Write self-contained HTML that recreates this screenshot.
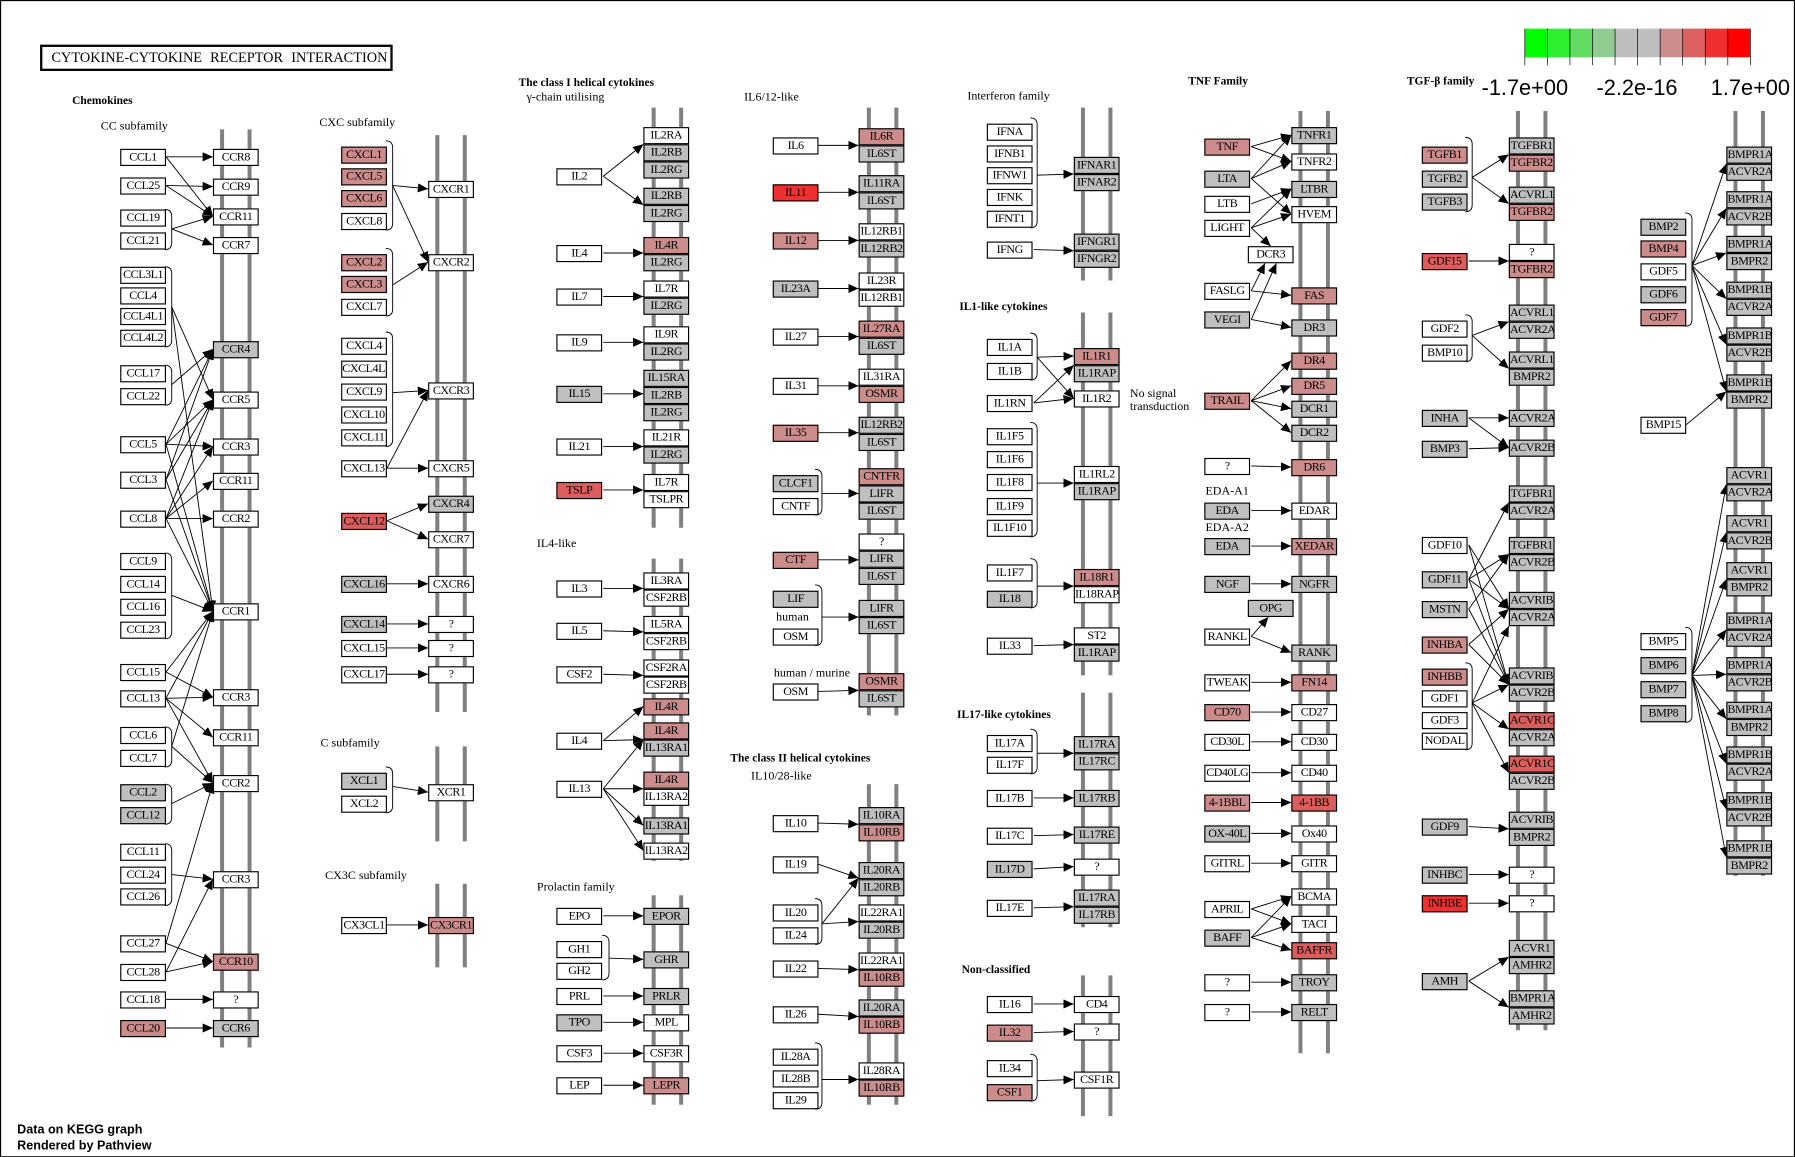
<!DOCTYPE html>
<html><head><meta charset="utf-8"><style>
html,body{margin:0;padding:0;background:#fff;overflow:hidden}
#wrap{position:relative;width:1795px;height:1157px;overflow:hidden}
#c{position:absolute;left:0;top:0;width:1568px;height:1011px;transform:scale(1.14477);transform-origin:0 0}
.n{position:absolute;width:40px;height:15px;box-sizing:border-box;border:1px solid #000;background:#fff;font:10.5px "Liberation Serif",serif;line-height:13px;text-align:center;white-space:nowrap;letter-spacing:-0.4px;overflow:hidden}
.g{background:#bfbfbf}.p{background:#cd8c8c}.r{background:#dd5c5c}.R{background:#ee3030}
.t{position:absolute;font:10.5px "Liberation Serif",serif;white-space:nowrap}
.b{position:absolute;font:bold 10px "Liberation Serif",serif;white-space:nowrap}
svg{position:absolute;left:0;top:0}
line{stroke:#000;stroke-width:0.8;marker-end:url(#a)}
line.rl{stroke:#808080;stroke-width:3.5;marker-end:none}
path{fill:none;stroke:#000;stroke-width:0.8}
</style></head><body><div id="wrap"><div id="c">
<svg width="1568" height="1011" viewBox="0 0 1568 1011">
<defs><marker id="a" markerUnits="userSpaceOnUse" markerWidth="9" markerHeight="8" refX="9" refY="4" orient="auto"><path d="M0,0 L9,4 L0,8 z" style="fill:#000;stroke:none"/></marker></defs>
<rect x="0.5" y="0.5" width="1567" height="1010" style="fill:none;stroke:#000;stroke-width:1"/>
<line class="rl" x1="194" y1="113" x2="194" y2="915"/><line class="rl" x1="218" y1="113" x2="218" y2="915"/>
<line class="rl" x1="382" y1="118" x2="382" y2="622"/><line class="rl" x1="406" y1="118" x2="406" y2="622"/>
<line class="rl" x1="382" y1="652" x2="382" y2="735"/><line class="rl" x1="406" y1="652" x2="406" y2="735"/>
<line class="rl" x1="382" y1="772" x2="382" y2="845"/><line class="rl" x1="406" y1="772" x2="406" y2="845"/>
<line class="rl" x1="571" y1="94" x2="571" y2="461"/><line class="rl" x1="595" y1="94" x2="595" y2="461"/>
<line class="rl" x1="571" y1="488" x2="571" y2="752"/><line class="rl" x1="595" y1="488" x2="595" y2="752"/>
<line class="rl" x1="571" y1="782" x2="571" y2="965"/><line class="rl" x1="595" y1="782" x2="595" y2="965"/>
<line class="rl" x1="759" y1="94" x2="759" y2="625"/><line class="rl" x1="783" y1="94" x2="783" y2="625"/>
<line class="rl" x1="759" y1="685" x2="759" y2="965"/><line class="rl" x1="783" y1="685" x2="783" y2="965"/>
<line class="rl" x1="946" y1="94" x2="946" y2="245"/><line class="rl" x1="970" y1="94" x2="970" y2="245"/>
<line class="rl" x1="946" y1="273" x2="946" y2="590"/><line class="rl" x1="970" y1="273" x2="970" y2="590"/>
<line class="rl" x1="946" y1="605" x2="946" y2="810"/><line class="rl" x1="970" y1="605" x2="970" y2="810"/>
<line class="rl" x1="946" y1="852" x2="946" y2="975"/><line class="rl" x1="970" y1="852" x2="970" y2="975"/>
<line class="rl" x1="1136" y1="97" x2="1136" y2="920"/><line class="rl" x1="1160" y1="97" x2="1160" y2="920"/>
<line class="rl" x1="1326" y1="97" x2="1326" y2="900"/><line class="rl" x1="1350" y1="97" x2="1350" y2="900"/>
<line class="rl" x1="1516" y1="97" x2="1516" y2="765"/><line class="rl" x1="1540" y1="97" x2="1540" y2="765"/>
<rect x="1332" y="25" width="19.7" height="25" fill="#00ff00"/><rect x="1351.7" y="25" width="19.7" height="25" fill="#30ee30"/><rect x="1371.4" y="25" width="19.7" height="25" fill="#60dd60"/><rect x="1391.1" y="25" width="19.7" height="25" fill="#90cc90"/><rect x="1410.8" y="25" width="19.7" height="25" fill="#bebebe"/><rect x="1430.5" y="25" width="19.7" height="25" fill="#bebebe"/><rect x="1450.2" y="25" width="19.7" height="25" fill="#cc8c8c"/><rect x="1469.9" y="25" width="19.7" height="25" fill="#dd6060"/><rect x="1489.6" y="25" width="19.7" height="25" fill="#ee3030"/><rect x="1509.3" y="25" width="19.7" height="25" fill="#ff0000"/>
<g><line class="rl" style="stroke:#000;stroke-width:0.6" x1="1332" y1="25" x2="1332" y2="57"/><line class="rl" style="stroke:#000;stroke-width:0.6" x1="1351.7" y1="25" x2="1351.7" y2="57"/><line class="rl" style="stroke:#000;stroke-width:0.6" x1="1371.4" y1="25" x2="1371.4" y2="57"/><line class="rl" style="stroke:#000;stroke-width:0.6" x1="1391.1" y1="25" x2="1391.1" y2="57"/><line class="rl" style="stroke:#000;stroke-width:0.6" x1="1410.8" y1="25" x2="1410.8" y2="57"/><line class="rl" style="stroke:#000;stroke-width:0.6" x1="1430.5" y1="25" x2="1430.5" y2="57"/><line class="rl" style="stroke:#000;stroke-width:0.6" x1="1450.2" y1="25" x2="1450.2" y2="57"/><line class="rl" style="stroke:#000;stroke-width:0.6" x1="1469.9" y1="25" x2="1469.9" y2="57"/><line class="rl" style="stroke:#000;stroke-width:0.6" x1="1489.6" y1="25" x2="1489.6" y2="57"/><line class="rl" style="stroke:#000;stroke-width:0.6" x1="1509.3" y1="25" x2="1509.3" y2="57"/><line class="rl" style="stroke:#000;stroke-width:0.6" x1="1529" y1="25" x2="1529" y2="57"/></g>
<text x="1332" y="83" text-anchor="middle" style="font:19px 'Liberation Sans',sans-serif">-1.7e+00</text>
<text x="1430" y="83" text-anchor="middle" style="font:19px 'Liberation Sans',sans-serif">-2.2e-16</text>
<text x="1529" y="83" text-anchor="middle" style="font:19px 'Liberation Sans',sans-serif">1.7e+00</text>
<path d="M144,183 q6,0 6,6 V212 q0,6 -6,6"/>
<path d="M144,233 q6,0 6,6 V297 q0,6 -6,6"/>
<path d="M144,319 q6,0 6,6 V348 q0,6 -6,6"/>
<path d="M144,483 q6,0 6,6 V552 q0,6 -6,6"/>
<path d="M144,635 q6,0 6,6 V664 q0,6 -6,6"/>
<path d="M144,685 q6,0 6,6 V714 q0,6 -6,6"/>
<path d="M144,737 q6,0 6,6 V785 q0,6 -6,6"/>
<path d="M337,123 q6,0 6,6 V195 q0,6 -6,6"/>
<path d="M337,217 q6,0 6,6 V270 q0,6 -6,6"/>
<path d="M337,290 q6,0 6,6 V384 q0,6 -6,6"/>
<path d="M337,670 q6,0 6,6 V704 q0,6 -6,6"/>
<path d="M526,817 q6,0 6,6 V850 q0,6 -6,6"/>
<path d="M712,410 q6,0 6,6 V444 q0,6 -6,6"/>
<path d="M712,511 q6,0 6,6 V558 q0,6 -6,6"/>
<path d="M712,785 q6,0 6,6 V819 q0,6 -6,6"/>
<path d="M712,911 q6,0 6,6 V963 q0,6 -6,6"/>
<path d="M900,103 q6,0 6,6 V193 q0,6 -6,6"/>
<path d="M900,291 q6,0 6,6 V326 q0,6 -6,6"/>
<path d="M900,369 q6,0 6,6 V463 q0,6 -6,6"/>
<path d="M900,488 q6,0 6,6 V525 q0,6 -6,6"/>
<path d="M900,637 q6,0 6,6 V670 q0,6 -6,6"/>
<path d="M900,921 q6,0 6,6 V956 q0,6 -6,6"/>
<path d="M1280,120 q6,0 6,6 V179 q0,6 -6,6"/>
<path d="M1280,275 q6,0 6,6 V310 q0,6 -6,6"/>
<path d="M1280,579 q6,0 6,6 V649 q0,6 -6,6"/>
<path d="M1472,186 q6,0 6,6 V279 q0,6 -6,6"/>
<path d="M1472,548 q6,0 6,6 V625 q0,6 -6,6"/>
<line x1="145" y1="137" x2="186" y2="137"/><line x1="145" y1="137" x2="186" y2="189"/>
<line x1="145" y1="162" x2="186" y2="163"/><line x1="145" y1="162" x2="186" y2="189"/>
<line x1="150" y1="200" x2="186" y2="189"/><line x1="150" y1="200" x2="186" y2="214"/>
<line x1="150" y1="268" x2="186" y2="349"/><line x1="150" y1="268" x2="186" y2="534"/>
<line x1="150" y1="336" x2="186" y2="305"/>
<line x1="145" y1="388" x2="186" y2="349"/><line x1="145" y1="388" x2="186" y2="390"/><line x1="145" y1="388" x2="186" y2="534"/><line x1="145" y1="388" x2="186" y2="305"/>
<line x1="145" y1="419" x2="186" y2="349"/><line x1="145" y1="419" x2="186" y2="534"/><line x1="145" y1="419" x2="186" y2="305"/>
<line x1="145" y1="453" x2="186" y2="390"/><line x1="145" y1="453" x2="186" y2="420"/><line x1="145" y1="453" x2="186" y2="453"/><line x1="145" y1="453" x2="186" y2="534"/><line x1="145" y1="453" x2="186" y2="349"/>
<line x1="150" y1="520" x2="186" y2="534"/>
<line x1="145" y1="587" x2="186" y2="534"/><line x1="145" y1="587" x2="186" y2="609"/>
<line x1="145" y1="610" x2="186" y2="534"/><line x1="145" y1="610" x2="186" y2="609"/><line x1="145" y1="610" x2="186" y2="644"/><line x1="145" y1="610" x2="186" y2="684"/>
<line x1="150" y1="652" x2="186" y2="534"/><line x1="150" y1="652" x2="186" y2="684"/>
<line x1="150" y1="702" x2="186" y2="684"/>
<line x1="150" y1="764" x2="186" y2="768"/>
<line x1="145" y1="824" x2="186" y2="684"/><line x1="145" y1="824" x2="186" y2="840"/><line x1="145" y1="849" x2="186" y2="768"/><line x1="145" y1="849" x2="186" y2="840"/>
<line x1="145" y1="873" x2="186" y2="873"/><line x1="145" y1="898" x2="186" y2="898"/>
<line x1="343" y1="162" x2="374" y2="165"/><line x1="343" y1="162" x2="374" y2="229"/>
<line x1="343" y1="249" x2="374" y2="229"/>
<line x1="343" y1="343" x2="374" y2="341"/>
<line x1="338" y1="409" x2="374" y2="409"/><line x1="338" y1="409" x2="374" y2="341"/>
<line x1="338" y1="455" x2="374" y2="440"/><line x1="338" y1="455" x2="374" y2="471"/>
<line x1="338" y1="510" x2="374" y2="510"/><line x1="338" y1="545" x2="374" y2="545"/><line x1="338" y1="566" x2="374" y2="566"/><line x1="338" y1="589" x2="374" y2="589"/>
<line x1="343" y1="687" x2="374" y2="692"/>
<line x1="338" y1="808" x2="374" y2="808"/>
<line x1="527" y1="154" x2="562" y2="126"/><line x1="527" y1="154" x2="562" y2="179"/>
<line x1="527" y1="221" x2="562" y2="221"/><line x1="527" y1="259" x2="562" y2="259"/><line x1="527" y1="299" x2="562" y2="299"/><line x1="527" y1="344" x2="562" y2="344"/><line x1="527" y1="390" x2="562" y2="390"/><line x1="527" y1="428" x2="562" y2="428"/>
<line x1="527" y1="514" x2="562" y2="514"/><line x1="527" y1="551" x2="562" y2="552"/><line x1="527" y1="589" x2="562" y2="590"/>
<line x1="527" y1="647" x2="562" y2="617"/><line x1="527" y1="647" x2="562" y2="646"/>
<line x1="527" y1="689" x2="562" y2="646"/><line x1="527" y1="689" x2="562" y2="689"/><line x1="527" y1="689" x2="562" y2="721"/><line x1="527" y1="689" x2="562" y2="743"/>
<line x1="527" y1="800" x2="562" y2="800"/><line x1="532" y1="837" x2="562" y2="838"/><line x1="527" y1="870" x2="562" y2="870"/><line x1="527" y1="893" x2="562" y2="893"/><line x1="527" y1="920" x2="562" y2="920"/><line x1="527" y1="948" x2="562" y2="948"/>
<line x1="715" y1="127" x2="750" y2="127"/><line x1="715" y1="168" x2="750" y2="168"/><line x1="715" y1="210" x2="750" y2="210"/><line x1="715" y1="252" x2="750" y2="252"/><line x1="715" y1="294" x2="750" y2="294"/><line x1="715" y1="337" x2="750" y2="337"/><line x1="715" y1="378" x2="750" y2="378"/>
<line x1="718" y1="431" x2="750" y2="431"/><line x1="715" y1="489" x2="750" y2="489"/><line x1="718" y1="539" x2="750" y2="539"/><line x1="715" y1="604" x2="750" y2="603"/>
<line x1="715" y1="719" x2="750" y2="720"/><line x1="715" y1="755" x2="750" y2="767"/><line x1="718" y1="807" x2="750" y2="767"/><line x1="718" y1="807" x2="750" y2="805"/>
<line x1="715" y1="846" x2="750" y2="847"/><line x1="715" y1="886" x2="750" y2="888"/><line x1="718" y1="943" x2="750" y2="943"/>
<line x1="906" y1="153" x2="938" y2="152"/><line x1="903" y1="218" x2="938" y2="219"/>
<line x1="906" y1="312" x2="938" y2="311"/><line x1="906" y1="312" x2="938" y2="348"/><line x1="903" y1="352" x2="938" y2="348"/><line x1="903" y1="352" x2="938" y2="319"/>
<line x1="906" y1="422" x2="938" y2="422"/><line x1="906" y1="512" x2="938" y2="512"/><line x1="903" y1="564" x2="938" y2="563"/>
<line x1="906" y1="658" x2="938" y2="658"/><line x1="903" y1="697" x2="938" y2="697"/><line x1="903" y1="730" x2="938" y2="729"/><line x1="903" y1="759" x2="938" y2="757"/><line x1="903" y1="793" x2="938" y2="792"/>
<line x1="903" y1="877" x2="938" y2="877"/><line x1="903" y1="902" x2="938" y2="901"/><line x1="906" y1="944" x2="938" y2="943"/>
<line x1="1093" y1="128" x2="1128" y2="118"/><line x1="1093" y1="128" x2="1128" y2="141"/>
<line x1="1093" y1="156" x2="1128" y2="118"/><line x1="1093" y1="156" x2="1128" y2="141"/><line x1="1093" y1="156" x2="1128" y2="187"/>
<line x1="1093" y1="178" x2="1128" y2="165"/>
<line x1="1093" y1="199" x2="1128" y2="165"/><line x1="1093" y1="199" x2="1128" y2="187"/><line x1="1093" y1="199" x2="1110" y2="215"/>
<line x1="1093" y1="254" x2="1128" y2="258"/><line x1="1093" y1="254" x2="1105" y2="230"/><line x1="1093" y1="279" x2="1128" y2="286"/><line x1="1093" y1="279" x2="1115" y2="230"/>
<line x1="1093" y1="350" x2="1128" y2="315"/><line x1="1093" y1="350" x2="1128" y2="337"/><line x1="1093" y1="350" x2="1128" y2="357"/><line x1="1093" y1="350" x2="1128" y2="378"/>
<line x1="1093" y1="407" x2="1128" y2="408"/><line x1="1093" y1="446" x2="1128" y2="446"/><line x1="1093" y1="477" x2="1128" y2="477"/><line x1="1093" y1="510" x2="1128" y2="510"/>
<line x1="1093" y1="556" x2="1108" y2="539"/><line x1="1093" y1="556" x2="1128" y2="570"/>
<line x1="1093" y1="596" x2="1128" y2="596"/><line x1="1093" y1="622" x2="1128" y2="622"/><line x1="1093" y1="648" x2="1128" y2="648"/><line x1="1093" y1="675" x2="1128" y2="675"/><line x1="1093" y1="701" x2="1128" y2="701"/><line x1="1093" y1="728" x2="1128" y2="728"/><line x1="1093" y1="754" x2="1128" y2="754"/>
<line x1="1093" y1="794" x2="1128" y2="783"/><line x1="1093" y1="794" x2="1128" y2="807"/><line x1="1093" y1="819" x2="1128" y2="783"/><line x1="1093" y1="819" x2="1128" y2="807"/><line x1="1093" y1="819" x2="1128" y2="830"/>
<line x1="1093" y1="858" x2="1128" y2="858"/><line x1="1093" y1="884" x2="1128" y2="884"/>
<line x1="1286" y1="155" x2="1318" y2="135"/><line x1="1286" y1="155" x2="1318" y2="178"/>
<line x1="1283" y1="228" x2="1318" y2="228"/>
<line x1="1286" y1="293" x2="1318" y2="281"/><line x1="1286" y1="293" x2="1318" y2="322"/>
<line x1="1283" y1="365" x2="1318" y2="365"/><line x1="1283" y1="365" x2="1318" y2="391"/><line x1="1283" y1="392" x2="1318" y2="391"/>
<line x1="1283" y1="476" x2="1318" y2="532"/><line x1="1283" y1="476" x2="1318" y2="598"/>
<line x1="1283" y1="506" x2="1318" y2="439"/><line x1="1283" y1="506" x2="1318" y2="484"/><line x1="1283" y1="506" x2="1318" y2="532"/><line x1="1283" y1="506" x2="1318" y2="598"/>
<line x1="1283" y1="532" x2="1318" y2="484"/><line x1="1283" y1="532" x2="1318" y2="598"/>
<line x1="1283" y1="563" x2="1318" y2="532"/><line x1="1283" y1="563" x2="1318" y2="598"/>
<line x1="1286" y1="614" x2="1318" y2="547"/><line x1="1286" y1="614" x2="1318" y2="598"/><line x1="1286" y1="614" x2="1318" y2="637"/><line x1="1286" y1="614" x2="1318" y2="675"/>
<line x1="1283" y1="722" x2="1318" y2="724"/><line x1="1283" y1="764" x2="1318" y2="764"/><line x1="1283" y1="789" x2="1318" y2="789"/>
<line x1="1283" y1="857" x2="1318" y2="836"/><line x1="1283" y1="857" x2="1318" y2="880"/>
<line x1="1478" y1="232" x2="1508" y2="143"/><line x1="1478" y1="232" x2="1508" y2="182"/><line x1="1478" y1="232" x2="1508" y2="221"/><line x1="1478" y1="232" x2="1508" y2="261"/><line x1="1478" y1="232" x2="1508" y2="301"/><line x1="1478" y1="232" x2="1508" y2="342"/>
<line x1="1473" y1="371" x2="1508" y2="342"/>
<line x1="1478" y1="590" x2="1508" y2="423"/><line x1="1478" y1="590" x2="1508" y2="465"/><line x1="1478" y1="590" x2="1508" y2="506"/><line x1="1478" y1="590" x2="1508" y2="550"/><line x1="1478" y1="590" x2="1508" y2="589"/><line x1="1478" y1="590" x2="1508" y2="628"/><line x1="1478" y1="590" x2="1508" y2="667"/><line x1="1478" y1="590" x2="1508" y2="707"/><line x1="1478" y1="590" x2="1508" y2="749"/>
</svg>
<div style="position:absolute;left:35px;top:39px;width:308px;height:23px;box-sizing:border-box;border:2px solid #000;font:12.5px 'Liberation Serif',serif;line-height:19px;padding-left:8px;white-space:nowrap;word-spacing:4px;overflow:hidden">CYTOKINE-CYTOKINE RECEPTOR INTERACTION</div>
<div class="b" style="left:63px;top:83px">Chemokines</div>
<div class="t" style="left:88px;top:105px">CC subfamily</div>
<div class="t" style="left:279px;top:102px">CXC subfamily</div>
<div class="t" style="left:280px;top:644px">C subfamily</div>
<div class="t" style="left:284px;top:760px">CX3C subfamily</div>
<div class="b" style="left:453px;top:67px">The class I helical cytokines</div>
<div class="t" style="left:460px;top:80px">γ-chain utilising</div>
<div class="t" style="left:469px;top:470px">IL4-like</div>
<div class="t" style="left:469px;top:770px">Prolactin family</div>
<div class="t" style="left:650px;top:80px">IL6/12-like</div>
<div class="t" style="left:678px;top:534px">human</div>
<div class="t" style="left:676px;top:583px">human / murine</div>
<div class="b" style="left:638px;top:657px">The class II helical cytokines</div>
<div class="t" style="left:656px;top:673px">IL10/28-like</div>
<div class="t" style="left:845px;top:79px">Interferon family</div>
<div class="b" style="left:838px;top:263px">IL1-like cytokines</div>
<div class="t" style="left:987px;top:339px;line-height:11px">No signal<br>transduction</div>
<div class="b" style="left:836px;top:619px">IL17-like cytokines</div>
<div class="b" style="left:840px;top:842px">Non-classified</div>
<div class="b" style="left:1038px;top:66px">TNF Family</div>
<div class="t" style="left:1053px;top:424px">EDA-A1</div>
<div class="t" style="left:1053px;top:456px">EDA-A2</div>
<div class="b" style="left:1229px;top:66px">TGF-β family</div>
<div style="position:absolute;left:15px;top:980px;font:bold 11px 'Liberation Sans',sans-serif;line-height:14px">Data on KEGG graph<br>Rendered by Pathview</div>
<div class="n" style="left:105px;top:130px">CCL1</div><div class="n" style="left:105px;top:155px">CCL25</div><div class="n" style="left:105px;top:183px">CCL19</div><div class="n" style="left:105px;top:203px">CCL21</div><div class="n" style="left:105px;top:233px">CCL3L1</div><div class="n" style="left:105px;top:251px">CCL4</div><div class="n" style="left:105px;top:269px">CCL4L1</div><div class="n" style="left:105px;top:288px">CCL4L2</div><div class="n" style="left:105px;top:319px">CCL17</div><div class="n" style="left:105px;top:339px">CCL22</div><div class="n" style="left:105px;top:381px">CCL5</div><div class="n" style="left:105px;top:412px">CCL3</div><div class="n" style="left:105px;top:446px">CCL8</div><div class="n" style="left:105px;top:483px">CCL9</div><div class="n" style="left:105px;top:503px">CCL14</div><div class="n" style="left:105px;top:523px">CCL16</div><div class="n" style="left:105px;top:543px">CCL23</div><div class="n" style="left:105px;top:580px">CCL15</div><div class="n" style="left:105px;top:603px">CCL13</div><div class="n" style="left:105px;top:635px">CCL6</div><div class="n" style="left:105px;top:655px">CCL7</div><div class="n g" style="left:105px;top:685px">CCL2</div><div class="n g" style="left:105px;top:705px">CCL12</div><div class="n" style="left:105px;top:737px">CCL11</div><div class="n" style="left:105px;top:757px">CCL24</div><div class="n" style="left:105px;top:776px">CCL26</div><div class="n" style="left:105px;top:817px">CCL27</div><div class="n" style="left:105px;top:842px">CCL28</div><div class="n" style="left:105px;top:866px">CCL18</div><div class="n p" style="left:105px;top:891px">CCL20</div>
<div class="n" style="left:186px;top:130px">CCR8</div><div class="n" style="left:186px;top:156px">CCR9</div><div class="n" style="left:186px;top:182px">CCR11</div><div class="n" style="left:186px;top:207px">CCR7</div><div class="n g" style="left:186px;top:298px">CCR4</div><div class="n" style="left:186px;top:342px">CCR5</div><div class="n" style="left:186px;top:383px">CCR3</div><div class="n" style="left:186px;top:413px">CCR11</div><div class="n" style="left:186px;top:446px">CCR2</div><div class="n" style="left:186px;top:527px">CCR1</div><div class="n" style="left:186px;top:602px">CCR3</div><div class="n" style="left:186px;top:637px">CCR11</div><div class="n" style="left:186px;top:677px">CCR2</div><div class="n" style="left:186px;top:761px">CCR3</div><div class="n p" style="left:186px;top:833px">CCR10</div><div class="n" style="left:186px;top:866px">?</div><div class="n g" style="left:186px;top:891px">CCR6</div>
<div class="n p" style="left:298px;top:128px">CXCL1</div><div class="n p" style="left:298px;top:147px">CXCL5</div><div class="n p" style="left:298px;top:166px">CXCL6</div><div class="n" style="left:298px;top:186px">CXCL8</div><div class="n p" style="left:298px;top:222px">CXCL2</div><div class="n p" style="left:298px;top:241px">CXCL3</div><div class="n" style="left:298px;top:261px">CXCL7</div><div class="n" style="left:298px;top:295px">CXCL4</div><div class="n" style="left:298px;top:315px">CXCL4L1</div><div class="n" style="left:298px;top:335px">CXCL9</div><div class="n" style="left:298px;top:355px">CXCL10</div><div class="n" style="left:298px;top:375px">CXCL11</div><div class="n" style="left:298px;top:402px">CXCL13</div><div class="n r" style="left:298px;top:448px">CXCL12</div><div class="n g" style="left:298px;top:503px">CXCL16</div><div class="n g" style="left:298px;top:538px">CXCL14</div><div class="n" style="left:298px;top:559px">CXCL15</div><div class="n" style="left:298px;top:582px">CXCL17</div>
<div class="n" style="left:374px;top:158px">CXCR1</div><div class="n" style="left:374px;top:222px">CXCR2</div><div class="n" style="left:374px;top:334px">CXCR3</div><div class="n" style="left:374px;top:402px">CXCR5</div><div class="n g" style="left:374px;top:433px">CXCR4</div><div class="n" style="left:374px;top:464px">CXCR7</div><div class="n" style="left:374px;top:503px">CXCR6</div><div class="n" style="left:374px;top:538px">?</div><div class="n" style="left:374px;top:559px">?</div><div class="n" style="left:374px;top:582px">?</div>
<div class="n g" style="left:298px;top:675px">XCL1</div><div class="n" style="left:298px;top:695px">XCL2</div><div class="n" style="left:374px;top:685px">XCR1</div>
<div class="n" style="left:298px;top:801px">CX3CL1</div><div class="n p" style="left:374px;top:801px">CX3CR1</div>
<div class="n" style="left:486px;top:147px">IL2</div><div class="n" style="left:486px;top:214px">IL4</div><div class="n" style="left:486px;top:252px">IL7</div><div class="n" style="left:486px;top:292px">IL9</div><div class="n g" style="left:486px;top:337px">IL15</div><div class="n" style="left:486px;top:383px">IL21</div><div class="n r" style="left:486px;top:421px">TSLP</div>
<div class="n" style="left:562px;top:111px">IL2RA</div><div class="n g" style="left:562px;top:126px">IL2RB</div><div class="n g" style="left:562px;top:141px">IL2RG</div><div class="n g" style="left:562px;top:164px">IL2RB</div><div class="n g" style="left:562px;top:179px">IL2RG</div><div class="n p" style="left:562px;top:207px">IL4R</div><div class="n g" style="left:562px;top:222px">IL2RG</div><div class="n" style="left:562px;top:245px">IL7R</div><div class="n g" style="left:562px;top:260px">IL2RG</div><div class="n" style="left:562px;top:285px">IL9R</div><div class="n g" style="left:562px;top:300px">IL2RG</div><div class="n g" style="left:562px;top:323px">IL15RA</div><div class="n g" style="left:562px;top:338px">IL2RB</div><div class="n g" style="left:562px;top:353px">IL2RG</div><div class="n" style="left:562px;top:375px">IL21R</div><div class="n g" style="left:562px;top:390px">IL2RG</div><div class="n" style="left:562px;top:414px">IL7R</div><div class="n" style="left:562px;top:429px">TSLPR</div>
<div class="n" style="left:486px;top:507px">IL3</div><div class="n" style="left:486px;top:544px">IL5</div><div class="n" style="left:486px;top:582px">CSF2</div><div class="n" style="left:486px;top:640px">IL4</div><div class="n" style="left:486px;top:682px">IL13</div>
<div class="n" style="left:562px;top:500px">IL3RA</div><div class="n" style="left:562px;top:515px">CSF2RB</div><div class="n" style="left:562px;top:538px">IL5RA</div><div class="n" style="left:562px;top:553px">CSF2RB</div><div class="n" style="left:562px;top:576px">CSF2RA</div><div class="n" style="left:562px;top:591px">CSF2RB</div><div class="n p" style="left:562px;top:610px">IL4R</div><div class="n p" style="left:562px;top:631px">IL4R</div><div class="n g" style="left:562px;top:646px">IL13RA1</div><div class="n p" style="left:562px;top:674px">IL4R</div><div class="n" style="left:562px;top:689px">IL13RA2</div><div class="n g" style="left:562px;top:714px">IL13RA1</div><div class="n" style="left:562px;top:736px">IL13RA2</div>
<div class="n" style="left:486px;top:793px">EPO</div><div class="n" style="left:486px;top:822px">GH1</div><div class="n" style="left:486px;top:841px">GH2</div><div class="n" style="left:486px;top:863px">PRL</div><div class="n g" style="left:486px;top:886px">TPO</div><div class="n" style="left:486px;top:913px">CSF3</div><div class="n" style="left:486px;top:941px">LEP</div>
<div class="n g" style="left:562px;top:793px">EPOR</div><div class="n g" style="left:562px;top:831px">GHR</div><div class="n g" style="left:562px;top:863px">PRLR</div><div class="n" style="left:562px;top:886px">MPL</div><div class="n" style="left:562px;top:913px">CSF3R</div><div class="n p" style="left:562px;top:941px">LEPR</div>
<div class="n" style="left:675px;top:120px">IL6</div><div class="n R" style="left:675px;top:161px">IL11</div><div class="n p" style="left:675px;top:203px">IL12</div><div class="n g" style="left:675px;top:245px">IL23A</div><div class="n" style="left:675px;top:287px">IL27</div><div class="n" style="left:675px;top:330px">IL31</div><div class="n p" style="left:675px;top:371px">IL35</div><div class="n g" style="left:675px;top:415px">CLCF1</div><div class="n" style="left:675px;top:435px">CNTF</div><div class="n p" style="left:675px;top:482px">CTF</div><div class="n g" style="left:675px;top:516px">LIF</div><div class="n" style="left:675px;top:549px">OSM</div><div class="n" style="left:675px;top:597px">OSM</div>
<div class="n p" style="left:750px;top:112px">IL6R</div><div class="n g" style="left:750px;top:127px">IL6ST</div><div class="n g" style="left:750px;top:153px">IL11RA</div><div class="n g" style="left:750px;top:168px">IL6ST</div><div class="n" style="left:750px;top:195px">IL12RB1</div><div class="n g" style="left:750px;top:210px">IL12RB2</div><div class="n" style="left:750px;top:238px">IL23R</div><div class="n" style="left:750px;top:253px">IL12RB1</div><div class="n p" style="left:750px;top:280px">IL27RA</div><div class="n g" style="left:750px;top:295px">IL6ST</div><div class="n" style="left:750px;top:322px">IL31RA</div><div class="n p" style="left:750px;top:337px">OSMR</div><div class="n g" style="left:750px;top:364px">IL12RB2</div><div class="n g" style="left:750px;top:379px">IL6ST</div><div class="n p" style="left:750px;top:409px">CNTFR</div><div class="n g" style="left:750px;top:424px">LIFR</div><div class="n g" style="left:750px;top:439px">IL6ST</div><div class="n" style="left:750px;top:466px">?</div><div class="n g" style="left:750px;top:481px">LIFR</div><div class="n g" style="left:750px;top:496px">IL6ST</div><div class="n g" style="left:750px;top:524px">LIFR</div><div class="n g" style="left:750px;top:539px">IL6ST</div><div class="n p" style="left:750px;top:588px">OSMR</div><div class="n g" style="left:750px;top:603px">IL6ST</div>
<div class="n" style="left:675px;top:712px">IL10</div><div class="n" style="left:675px;top:748px">IL19</div><div class="n" style="left:675px;top:790px">IL20</div><div class="n" style="left:675px;top:810px">IL24</div><div class="n" style="left:675px;top:839px">IL22</div><div class="n" style="left:675px;top:879px">IL26</div><div class="n" style="left:675px;top:916px">IL28A</div><div class="n" style="left:675px;top:935px">IL28B</div><div class="n" style="left:675px;top:954px">IL29</div>
<div class="n g" style="left:750px;top:705px">IL10RA</div><div class="n p" style="left:750px;top:720px">IL10RB</div><div class="n g" style="left:750px;top:753px">IL20RA</div><div class="n g" style="left:750px;top:768px">IL20RB</div><div class="n" style="left:750px;top:790px">IL22RA1</div><div class="n g" style="left:750px;top:805px">IL20RB</div><div class="n" style="left:750px;top:832px">IL22RA1</div><div class="n p" style="left:750px;top:847px">IL10RB</div><div class="n g" style="left:750px;top:873px">IL20RA</div><div class="n p" style="left:750px;top:888px">IL10RB</div><div class="n" style="left:750px;top:928px">IL28RA</div><div class="n p" style="left:750px;top:943px">IL10RB</div>
<div class="n" style="left:862px;top:108px">IFNA</div><div class="n" style="left:862px;top:127px">IFNB1</div><div class="n" style="left:862px;top:146px">IFNW1</div><div class="n" style="left:862px;top:165px">IFNK</div><div class="n" style="left:862px;top:184px">IFNT1</div><div class="n" style="left:862px;top:211px">IFNG</div>
<div class="n g" style="left:938px;top:137px">IFNAR1</div><div class="n g" style="left:938px;top:152px">IFNAR2</div><div class="n g" style="left:938px;top:204px">IFNGR1</div><div class="n g" style="left:938px;top:219px">IFNGR2</div>
<div class="n" style="left:862px;top:296px">IL1A</div><div class="n" style="left:862px;top:317px">IL1B</div><div class="n" style="left:862px;top:345px">IL1RN</div><div class="n" style="left:862px;top:374px">IL1F5</div><div class="n" style="left:862px;top:394px">IL1F6</div><div class="n" style="left:862px;top:414px">IL1F8</div><div class="n" style="left:862px;top:435px">IL1F9</div><div class="n" style="left:862px;top:454px">IL1F10</div><div class="n" style="left:862px;top:493px">IL1F7</div><div class="n g" style="left:862px;top:516px">IL18</div><div class="n" style="left:862px;top:557px">IL33</div>
<div class="n p" style="left:938px;top:304px">IL1R1</div><div class="n g" style="left:938px;top:319px">IL1RAP</div><div class="n" style="left:938px;top:341px">IL1R2</div><div class="n" style="left:938px;top:407px">IL1RL2</div><div class="n g" style="left:938px;top:422px">IL1RAP</div><div class="n p" style="left:938px;top:497px">IL18R1</div><div class="n" style="left:938px;top:512px">IL18RAP</div><div class="n" style="left:938px;top:548px">ST2</div><div class="n g" style="left:938px;top:563px">IL1RAP</div>
<div class="n" style="left:862px;top:642px">IL17A</div><div class="n" style="left:862px;top:661px">IL17F</div><div class="n" style="left:862px;top:690px">IL17B</div><div class="n" style="left:862px;top:723px">IL17C</div><div class="n g" style="left:862px;top:752px">IL17D</div><div class="n" style="left:862px;top:786px">IL17E</div>
<div class="n g" style="left:938px;top:643px">IL17RA</div><div class="n g" style="left:938px;top:658px">IL17RC</div><div class="n g" style="left:938px;top:690px">IL17RB</div><div class="n g" style="left:938px;top:722px">IL17RE</div><div class="n" style="left:938px;top:750px">?</div><div class="n g" style="left:938px;top:777px">IL17RA</div><div class="n g" style="left:938px;top:792px">IL17RB</div>
<div class="n" style="left:862px;top:870px">IL16</div><div class="n p" style="left:862px;top:895px">IL32</div><div class="n" style="left:862px;top:926px">IL34</div><div class="n p" style="left:862px;top:947px">CSF1</div>
<div class="n" style="left:938px;top:870px">CD4</div><div class="n" style="left:938px;top:894px">?</div><div class="n" style="left:938px;top:936px">CSF1R</div>
<div class="n p" style="left:1052px;top:121px">TNF</div><div class="n g" style="left:1052px;top:149px">LTA</div><div class="n" style="left:1052px;top:171px">LTB</div><div class="n" style="left:1052px;top:192px">LIGHT</div><div class="n" style="left:1052px;top:247px">FASLG</div><div class="n g" style="left:1052px;top:272px">VEGI</div><div class="n p" style="left:1052px;top:343px">TRAIL</div><div class="n" style="left:1052px;top:400px">?</div><div class="n g" style="left:1052px;top:439px">EDA</div><div class="n g" style="left:1052px;top:470px">EDA</div><div class="n g" style="left:1052px;top:503px">NGF</div><div class="n" style="left:1052px;top:549px">RANKL</div><div class="n g" style="left:1090px;top:524px">OPG</div><div class="n" style="left:1052px;top:589px">TWEAK</div><div class="n p" style="left:1052px;top:615px">CD70</div><div class="n" style="left:1052px;top:641px">CD30L</div><div class="n" style="left:1052px;top:668px">CD40LG</div><div class="n p" style="left:1052px;top:694px">4-1BBL</div><div class="n g" style="left:1052px;top:721px">OX-40L</div><div class="n" style="left:1052px;top:747px">GITRL</div><div class="n" style="left:1052px;top:787px">APRIL</div><div class="n g" style="left:1052px;top:812px">BAFF</div><div class="n" style="left:1052px;top:851px">?</div><div class="n" style="left:1052px;top:877px">?</div>
<div class="n g" style="left:1128px;top:111px">TNFR1</div><div class="n" style="left:1128px;top:134px">TNFR2</div><div class="n g" style="left:1128px;top:158px">LTBR</div><div class="n" style="left:1128px;top:180px">HVEM</div><div class="n" style="left:1090px;top:215px">DCR3</div><div class="n p" style="left:1128px;top:251px">FAS</div><div class="n g" style="left:1128px;top:279px">DR3</div><div class="n p" style="left:1128px;top:308px">DR4</div><div class="n p" style="left:1128px;top:330px">DR5</div><div class="n g" style="left:1128px;top:350px">DCR1</div><div class="n g" style="left:1128px;top:371px">DCR2</div><div class="n p" style="left:1128px;top:401px">DR6</div><div class="n" style="left:1128px;top:439px">EDAR</div><div class="n p" style="left:1128px;top:470px">XEDAR</div><div class="n g" style="left:1128px;top:503px">NGFR</div><div class="n g" style="left:1128px;top:563px">RANK</div><div class="n p" style="left:1128px;top:589px">FN14</div><div class="n" style="left:1128px;top:615px">CD27</div><div class="n" style="left:1128px;top:641px">CD30</div><div class="n" style="left:1128px;top:668px">CD40</div><div class="n r" style="left:1128px;top:694px">4-1BB</div><div class="n" style="left:1128px;top:721px">Ox40</div><div class="n" style="left:1128px;top:747px">GITR</div><div class="n" style="left:1128px;top:776px">BCMA</div><div class="n" style="left:1128px;top:800px">TACI</div><div class="n r" style="left:1128px;top:823px">BAFFR</div><div class="n g" style="left:1128px;top:851px">TROY</div><div class="n g" style="left:1128px;top:877px">RELT</div>
<div class="n p" style="left:1242px;top:128px">TGFB1</div><div class="n g" style="left:1242px;top:149px">TGFB2</div><div class="n g" style="left:1242px;top:169px">TGFB3</div><div class="n r" style="left:1242px;top:221px">GDF15</div><div class="n" style="left:1242px;top:280px">GDF2</div><div class="n" style="left:1242px;top:301px">BMP10</div><div class="n g" style="left:1242px;top:358px">INHA</div><div class="n g" style="left:1242px;top:385px">BMP3</div><div class="n" style="left:1242px;top:469px">GDF10</div><div class="n g" style="left:1242px;top:499px">GDF11</div><div class="n g" style="left:1242px;top:525px">MSTN</div><div class="n p" style="left:1242px;top:556px">INHBA</div><div class="n p" style="left:1242px;top:584px">INHBB</div><div class="n" style="left:1242px;top:603px">GDF1</div><div class="n" style="left:1242px;top:622px">GDF3</div><div class="n" style="left:1242px;top:640px">NODAL</div><div class="n g" style="left:1242px;top:715px">GDF9</div><div class="n g" style="left:1242px;top:757px">INHBC</div><div class="n R" style="left:1242px;top:782px">INHBE</div><div class="n g" style="left:1242px;top:850px">AMH</div>
<div class="n g" style="left:1318px;top:120px">TGFBR1</div><div class="n p" style="left:1318px;top:135px">TGFBR2</div><div class="n g" style="left:1318px;top:163px">ACVRL1</div><div class="n p" style="left:1318px;top:178px">TGFBR2</div><div class="n" style="left:1318px;top:213px">?</div><div class="n p" style="left:1318px;top:228px">TGFBR2</div><div class="n g" style="left:1318px;top:266px">ACVRL1</div><div class="n g" style="left:1318px;top:281px">ACVR2A</div><div class="n g" style="left:1318px;top:307px">ACVRL1</div><div class="n g" style="left:1318px;top:322px">BMPR2</div><div class="n g" style="left:1318px;top:358px">ACVR2A</div><div class="n g" style="left:1318px;top:384px">ACVR2B</div><div class="n g" style="left:1318px;top:424px">TGFBR1</div><div class="n g" style="left:1318px;top:439px">ACVR2A</div><div class="n g" style="left:1318px;top:469px">TGFBR1</div><div class="n g" style="left:1318px;top:484px">ACVR2B</div><div class="n g" style="left:1318px;top:517px">ACVRIB</div><div class="n g" style="left:1318px;top:532px">ACVR2A</div><div class="n g" style="left:1318px;top:583px">ACVRIB</div><div class="n g" style="left:1318px;top:598px">ACVR2B</div><div class="n r" style="left:1318px;top:622px">ACVR1C</div><div class="n g" style="left:1318px;top:637px">ACVR2A</div><div class="n r" style="left:1318px;top:660px">ACVR1C</div><div class="n g" style="left:1318px;top:675px">ACVR2B</div><div class="n g" style="left:1318px;top:709px">ACVRIB</div><div class="n g" style="left:1318px;top:724px">BMPR2</div><div class="n" style="left:1318px;top:757px">?</div><div class="n" style="left:1318px;top:782px">?</div><div class="n g" style="left:1318px;top:821px">ACVR1</div><div class="n g" style="left:1318px;top:836px">AMHR2</div><div class="n g" style="left:1318px;top:865px">BMPR1A</div><div class="n g" style="left:1318px;top:880px">AMHR2</div>
<div class="n g" style="left:1433px;top:191px">BMP2</div><div class="n p" style="left:1433px;top:210px">BMP4</div><div class="n" style="left:1433px;top:230px">GDF5</div><div class="n g" style="left:1433px;top:250px">GDF6</div><div class="n p" style="left:1433px;top:270px">GDF7</div><div class="n" style="left:1433px;top:364px">BMP15</div><div class="n" style="left:1433px;top:553px">BMP5</div><div class="n g" style="left:1433px;top:574px">BMP6</div><div class="n g" style="left:1433px;top:595px">BMP7</div><div class="n g" style="left:1433px;top:616px">BMP8</div>
<div class="n g" style="left:1508px;top:128px">BMPR1A</div><div class="n g" style="left:1508px;top:143px">ACVR2A</div><div class="n g" style="left:1508px;top:167px">BMPR1A</div><div class="n g" style="left:1508px;top:182px">ACVR2B</div><div class="n g" style="left:1508px;top:206px">BMPR1A</div><div class="n g" style="left:1508px;top:221px">BMPR2</div><div class="n g" style="left:1508px;top:246px">BMPR1B</div><div class="n g" style="left:1508px;top:261px">ACVR2A</div><div class="n g" style="left:1508px;top:286px">BMPR1B</div><div class="n g" style="left:1508px;top:301px">ACVR2B</div><div class="n g" style="left:1508px;top:327px">BMPR1B</div><div class="n g" style="left:1508px;top:342px">BMPR2</div><div class="n g" style="left:1508px;top:408px">ACVR1</div><div class="n g" style="left:1508px;top:423px">ACVR2A</div><div class="n g" style="left:1508px;top:450px">ACVR1</div><div class="n g" style="left:1508px;top:465px">ACVR2B</div><div class="n g" style="left:1508px;top:491px">ACVR1</div><div class="n g" style="left:1508px;top:506px">BMPR2</div><div class="n g" style="left:1508px;top:535px">BMPR1A</div><div class="n g" style="left:1508px;top:550px">ACVR2A</div><div class="n g" style="left:1508px;top:574px">BMPR1A</div><div class="n g" style="left:1508px;top:589px">ACVR2B</div><div class="n g" style="left:1508px;top:613px">BMPR1A</div><div class="n g" style="left:1508px;top:628px">BMPR2</div><div class="n g" style="left:1508px;top:652px">BMPR1B</div><div class="n g" style="left:1508px;top:667px">ACVR2A</div><div class="n g" style="left:1508px;top:692px">BMPR1B</div><div class="n g" style="left:1508px;top:707px">ACVR2B</div><div class="n g" style="left:1508px;top:734px">BMPR1B</div><div class="n g" style="left:1508px;top:749px">BMPR2</div>
</div></div></body></html>
